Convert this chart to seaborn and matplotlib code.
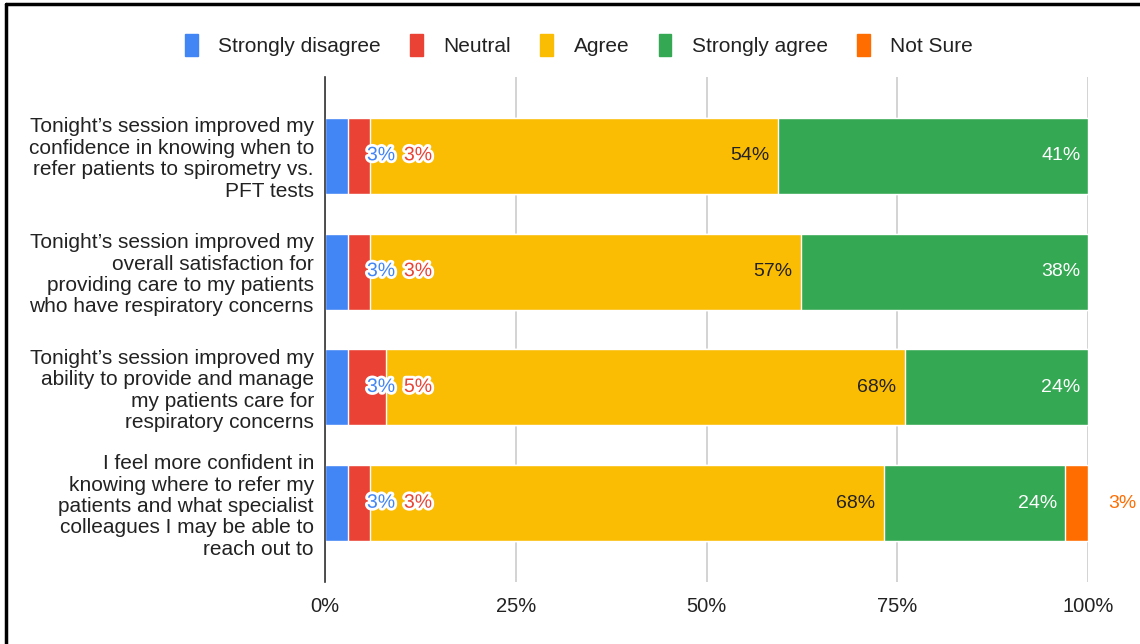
import matplotlib
matplotlib.use("Agg")
import matplotlib.pyplot as plt
import matplotlib.patheffects as pe
from matplotlib.patches import Patch
from matplotlib.lines import Line2D
import seaborn as sns
import numpy as np
import pandas as pd

questions = [
    "Tonight’s session improved my\nconfidence in knowing when to\nrefer patients to spirometry vs.\nPFT tests",
    "Tonight’s session improved my\noverall satisfaction for\nproviding care to my patients\nwho have respiratory concerns",
    "Tonight’s session improved my\nability to provide and manage\nmy patients care for\nrespiratory concerns",
    "I feel more confident in\nknowing where to refer my\npatients and what specialist\ncolleagues I may be able to\nreach out to",
]
series = ["Strongly disagree", "Neutral", "Agree", "Strongly agree", "Not Sure"]
strongly_disagree = [3, 3, 3, 3]
neutral = [3, 3, 5, 3]
agree = [54, 57, 68, 68]
strongly_agree = [41, 38, 24, 24]
not_sure = [0, 0, 0, 3]
colors = ["#4285F4", "#EA4335", "#FBBC04", "#34A853", "#FF6D01"]
x_ticks = [0, 25, 50, 75, 100]
x_tick_labels = ["0%", "25%", "50%", "75%", "100%"]

sns.set_theme(style="white")
plt.rcParams["font.family"] = ["Liberation Sans", "DejaVu Sans"]

raw = np.array([strongly_disagree, neutral, agree, strongly_agree, not_sure], dtype=float)
norm = raw / raw.sum(axis=0) * 100
cum = np.cumsum(norm, axis=0)

fig = plt.figure(figsize=(11.4, 6.44), dpi=100)
ax = fig.add_axes([0.2851, 0.0963, 0.9544 - 0.2851, 0.8804 - 0.0963])

for k in range(len(series) - 1, -1, -1):
    df = pd.DataFrame({"q": questions, "v": cum[k]})
    sns.barplot(data=df, y="q", x="v", orient="h", color=colors[k], width=0.655,
                saturation=1, ax=ax, zorder=2)

ax.set_xlim(0, 100)
ax.set_ylim(3.68, -0.68)
ax.set_xticks(x_ticks)
ax.set_xticklabels(x_tick_labels)
ax.set_xlabel("")
ax.set_ylabel("")
ax.grid(axis="x", color="#cccccc", linewidth=1.2, zorder=0)
ax.set_axisbelow(True)
for s in ["top", "right", "bottom"]:
    ax.spines[s].set_visible(False)
ax.spines["left"].set_color("#333333")
ax.spines["left"].set_linewidth(1.2)
ax.spines["left"].set_zorder(5)
ax.tick_params(axis="x", length=0, pad=11, labelsize=14.5, labelcolor="#222222")
ax.tick_params(axis="y", length=0, pad=8, labelsize=15, labelcolor="#222222")
for t in ax.get_yticklabels():
    t.set_horizontalalignment("right")
    t.set_multialignment("right")
    t.set_linespacing(1.16)

fs = 14
outline = [pe.withStroke(linewidth=4, foreground="white")]
small_pos = [7.35, 12.2]
for i in range(len(questions)):
    for k in range(2):
        ax.text(small_pos[k], i, f"{int(raw[k, i])}%", ha="center", va="center",
                color=colors[k], fontsize=fs, path_effects=outline, zorder=6)
    ax.annotate(f"{int(raw[2, i])}%", xy=(cum[2, i], i), xytext=(-6.5, 0),
                textcoords="offset points", ha="right", va="center",
                color="#222222", fontsize=fs, zorder=6)
    ax.annotate(f"{int(raw[3, i])}%", xy=(cum[3, i], i), xytext=(-5.5, 0),
                textcoords="offset points", ha="right", va="center",
                color="white", fontsize=fs, zorder=6)
    if raw[4, i] > 0:
        ax.annotate(f"{int(raw[4, i])}%", xy=(100, i), xytext=(25, 0),
                    textcoords="offset points", ha="center", va="center",
                    color=colors[4], fontsize=fs, annotation_clip=False, zorder=6)

handles = [Patch(facecolor=c, edgecolor=c, label=s) for c, s in zip(colors, series)]
fig.legend(handles=handles, loc="center", bbox_to_anchor=(0.508, 1 - 45 / 644), ncol=5,
           frameon=False, fontsize=15, handlelength=0.6, handleheight=1.25,
           handletextpad=1.0, columnspacing=1.4, labelcolor="#222222")

fig.add_artist(Line2D([6 / 1140, 6 / 1140], [0, 1 - 4 / 644], color="black", linewidth=2.5,
                      transform=fig.transFigure))
fig.add_artist(Line2D([6 / 1140, 1], [1 - 4 / 644, 1 - 4 / 644], color="black", linewidth=2.5,
                      transform=fig.transFigure))

fig.savefig("out.png", dpi=100, facecolor="white")
